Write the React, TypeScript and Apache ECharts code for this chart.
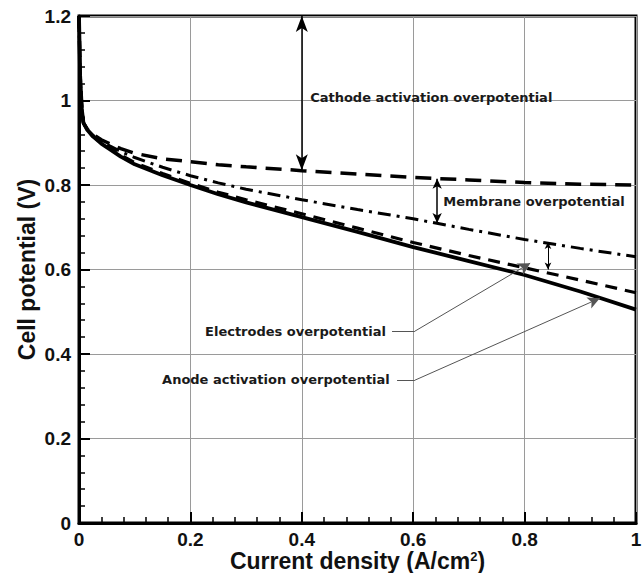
import React, { useEffect, useRef } from "react";
import * as echarts from "echarts";

const currentDensity = [0, 0.002, 0.005, 0.008, 0.015, 0.025, 0.04, 0.055, 0.075, 0.1, 0.15, 0.2, 0.25, 0.3, 0.4, 0.5, 0.6, 0.7, 0.8, 0.9, 1.0];
const cellPotential = [1.2, 1.06, 0.98, 0.947, 0.93, 0.915, 0.898, 0.885, 0.867, 0.849, 0.823, 0.8, 0.778, 0.759, 0.724, 0.689, 0.653, 0.62, 0.587, 0.548, 0.505];
const electrodesCurve = [1.2, 1.06, 0.98, 0.947, 0.93, 0.915, 0.9, 0.888, 0.871, 0.853, 0.827, 0.804, 0.783, 0.765, 0.732, 0.698, 0.664, 0.633, 0.604, 0.575, 0.545];
const membraneCurve = [1.2, 1.06, 0.98, 0.947, 0.931, 0.918, 0.904, 0.893, 0.879, 0.865, 0.842, 0.822, 0.805, 0.79, 0.765, 0.742, 0.72, 0.695, 0.671, 0.65, 0.63];
const cathodeCurve = [1.2, 1.06, 0.98, 0.947, 0.932, 0.92, 0.907, 0.898, 0.886, 0.875, 0.862, 0.855, 0.848, 0.843, 0.834, 0.826, 0.818, 0.812, 0.806, 0.802, 0.8];

const annotations = [
  { text: "Cathode activation overpotential", x: 0.415, y: 1.008, align: "left" },
  { text: "Membrane overpotential", x: 0.654, y: 0.76, align: "left" },
  { text: "Electrodes overpotential", x: 0.551, y: 0.454, align: "right" },
  { text: "Anode activation overpotential", x: 0.558, y: 0.34, align: "right" },
];

const pair = (xs: number[], ys: number[]) => xs.map((x, i) => [x, ys[i]]);

export default function App() {
  const ref = useRef<HTMLDivElement>(null);
  useEffect(() => {
    if (!ref.current) return;
    const chart = echarts.init(ref.current, null, { renderer: "svg" });
    const font = "'Liberation Sans', Arial, sans-serif";
    const annFont = "'DejaVu Sans', Verdana, sans-serif";
    const arrowLine = { color: "#000", width: 1.5, type: "solid" as const };
    const leaderLine = { color: "#555", width: 1, type: "solid" as const };
    const fmt = (v: number) => String(Math.round(v * 10) / 10);
    const option: any = {
      animation: false,
      grid: { left: 79, right: 6, top: 16, bottom: 50, show: true, borderColor: "#000", borderWidth: 3, backgroundColor: "transparent", containLabel: false, outerBoundsMode: "none" },
      xAxis: {
        type: "value", min: 0, max: 1, interval: 0.2,
        name: "Current density (A/cm{sup|2})", nameLocation: "middle", nameGap: 27, nameMoveOverlap: false,
        nameTextStyle: { fontFamily: font, fontSize: 23, lineHeight: 22, fontWeight: "bold", color: "#111",
          rich: { sup: { fontFamily: font, fontSize: 13, lineHeight: 22, fontWeight: "bold", verticalAlign: "top", padding: [0, 0, 9, 0], color: "#111" } } },
        axisLine: { show: true, lineStyle: { color: "#000", width: 3 } },
        axisTick: { show: true, inside: true, length: 11, lineStyle: { color: "#000", width: 2 } },
        minorTick: { show: true, splitNumber: 5, length: 6, lineStyle: { color: "#000", width: 1.5 } },
        axisLabel: { fontFamily: font, fontSize: 19, lineHeight: 17, fontWeight: "bold", color: "#111", margin: 8, formatter: fmt },
        splitLine: { show: true, lineStyle: { color: "#9a9a9a", width: 1 } },
      },
      yAxis: {
        type: "value", min: 0, max: 1.2, interval: 0.2,
        name: "Cell potential (V)", nameLocation: "middle", nameGap: 41, nameMoveOverlap: false,
        nameTextStyle: { fontFamily: font, fontSize: 23, fontWeight: "bold", color: "#111" },
        axisLine: { show: true, lineStyle: { color: "#000", width: 3 } },
        axisTick: { show: true, inside: true, length: 11, lineStyle: { color: "#000", width: 2 } },
        minorTick: { show: true, splitNumber: 5, length: 6, lineStyle: { color: "#000", width: 1.5 } },
        axisLabel: { fontFamily: font, fontSize: 19, fontWeight: "bold", color: "#111", margin: 8, formatter: fmt },
        splitLine: { show: true, lineStyle: { color: "#9a9a9a", width: 1 } },
      },
      series: [
        {
          type: "line", data: pair(currentDensity, cathodeCurve), showSymbol: false, symbol: "none",
          lineStyle: { color: "#000", width: 3.5, type: [16, 9] }, z: 3,
        },
        {
          type: "line", data: pair(currentDensity, membraneCurve), showSymbol: false, symbol: "none",
          lineStyle: { color: "#000", width: 3, type: [13, 6, 3, 6] }, z: 3,
        },
        {
          type: "line", data: pair(currentDensity, electrodesCurve), showSymbol: false, symbol: "none",
          lineStyle: { color: "#000", width: 3.2, type: [12, 8] }, z: 3,
        },
        {
          type: "line", data: pair(currentDensity, cellPotential), showSymbol: false, symbol: "none",
          lineStyle: { color: "#000", width: 3.8 }, z: 4,
          markLine: {
            silent: true, animation: false, label: { show: false },
            symbol: ["arrow", "arrow"],
            data: [
              [{ coord: [0.4, 1.2], symbol: "arrow", symbolSize: [9, 16], lineStyle: arrowLine }, { coord: [0.4, 0.835], symbol: "arrow", symbolSize: [9, 16] }],
              [{ coord: [0.643, 0.815], symbol: "arrow", symbolSize: [7, 10], lineStyle: arrowLine }, { coord: [0.643, 0.71], symbol: "arrow", symbolSize: [7, 10] }],
              [{ coord: [0.842, 0.665], symbol: "arrow", symbolSize: [5, 7], lineStyle: { color: "#000", width: 1, type: "solid" } }, { coord: [0.842, 0.6], symbol: "arrow", symbolSize: [5, 7] }],
              [{ coord: [0.562, 0.454], symbol: "none", lineStyle: leaderLine }, { coord: [0.603, 0.454], symbol: "none" }],
              [{ coord: [0.603, 0.454], symbol: "none", lineStyle: leaderLine }, { coord: [0.81, 0.615], symbol: "arrow", symbolSize: [10, 12] }],
              [{ coord: [0.571, 0.338], symbol: "none", lineStyle: leaderLine }, { coord: [0.603, 0.338], symbol: "none" }],
              [{ coord: [0.603, 0.338], symbol: "none", lineStyle: leaderLine }, { coord: [0.935, 0.532], symbol: "arrow", symbolSize: [9, 12] }],
            ],
          },
        },
      ],
    };
    chart.setOption(option);
    const graphics = annotations.map((a) => {
      const p = chart.convertToPixel({ gridIndex: 0 }, [a.x, a.y]) as number[];
      return {
        type: "text", x: p[0], y: p[1], z: 10,
        style: { text: a.text, fontFamily: annFont, fontSize: 13, fontWeight: "bold", fill: "#1a1a1a",
          align: a.align, verticalAlign: "middle" },
      };
    });
    chart.setOption({ graphic: graphics });
    return () => chart.dispose();
  }, []);
  return <div ref={ref} style={{ position: "fixed", left: 0, top: 0, width: 642, height: 573, background: "#fff" }} />;
}
